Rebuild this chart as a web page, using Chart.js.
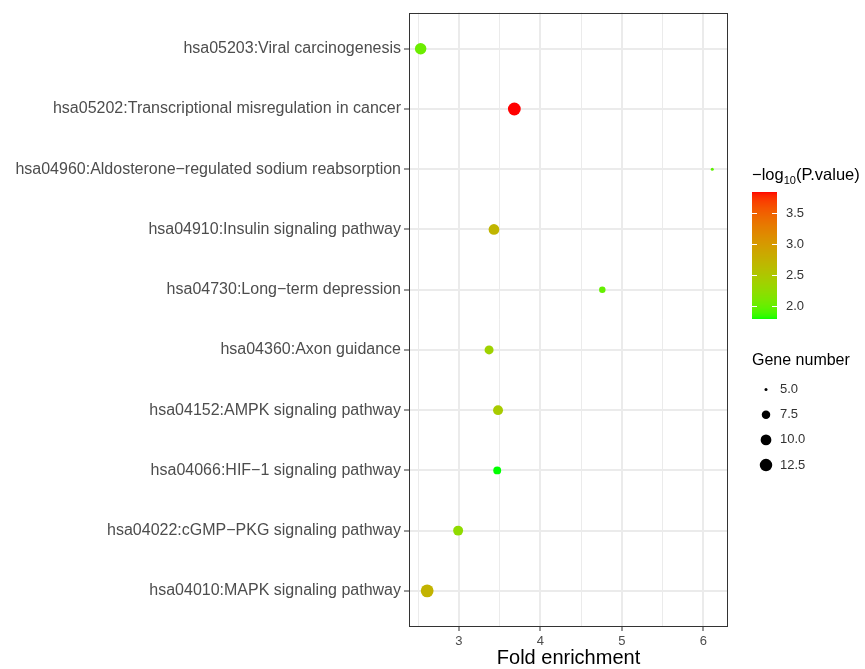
<!DOCTYPE html>
<html>
<head>
<meta charset="utf-8">
<script src="https://cdn.jsdelivr.net/npm/chart.js@4.4.1/dist/chart.umd.min.js"></script>
<style>
  html, body { margin: 0; padding: 0; background: #fff; }
  #wrap { width: 865px; height: 669px; }
</style>
</head>
<body>
<div id="wrap"><canvas id="myChart" width="865" height="669"></canvas></div>
<script>
// pathways, top to bottom
const pathways = [
  'hsa05203:Viral carcinogenesis',
  'hsa05202:Transcriptional misregulation in cancer',
  'hsa04960:Aldosterone\u2212regulated sodium reabsorption',
  'hsa04910:Insulin signaling pathway',
  'hsa04730:Long\u2212term depression',
  'hsa04360:Axon guidance',
  'hsa04152:AMPK signaling pathway',
  'hsa04066:HIF\u22121 signaling pathway',
  'hsa04022:cGMP\u2212PKG signaling pathway',
  'hsa04010:MAPK signaling pathway'
];
const foldEnrichment = [2.53, 3.68, 6.11, 3.43, 4.76, 3.37, 3.48, 3.47, 2.99, 2.61];
const negLog10P = [2.02, 3.85, 1.95, 2.70, 1.98, 2.36, 2.44, 1.78, 2.24, 2.73];
const geneNumber = [11, 13, 5, 10, 6, 8, 9, 7, 9, 13];

const xTicks = [3, 4, 5, 6];
const xMinorTicks = [2.5, 3.5, 4.5, 5.5];
const colorBreaks = [2.0, 2.5, 3.0, 3.5];
const sizeBreaks = [5.0, 7.5, 10.0, 12.5];

const FONT = "'Liberation Sans', Arial, sans-serif";

// --- green -> red gradient, interpolated in Lab like ggplot does ---
function toLab(rgb) {
  const f = c => { c /= 255; return c <= 0.04045 ? c / 12.92 : Math.pow((c + 0.055) / 1.055, 2.4); };
  const R = f(rgb[0]), G = f(rgb[1]), B = f(rgb[2]);
  const X = (0.4124 * R + 0.3576 * G + 0.1805 * B) / 0.95047;
  const Y = (0.2126 * R + 0.7152 * G + 0.0722 * B);
  const Z = (0.0193 * R + 0.1192 * G + 0.9505 * B) / 1.08883;
  const h = t => t > 0.008856 ? Math.cbrt(t) : 7.787 * t + 16 / 116;
  const fx = h(X), fy = h(Y), fz = h(Z);
  return [116 * fy - 16, 500 * (fx - fy), 200 * (fy - fz)];
}
function fromLab(lab) {
  const fy = (lab[0] + 16) / 116, fx = fy + lab[1] / 500, fz = fy - lab[2] / 200;
  const inv = t => (t * t * t > 0.008856) ? t * t * t : (t - 16 / 116) / 7.787;
  const X = inv(fx) * 0.95047, Y = inv(fy), Z = inv(fz) * 1.08883;
  const lin = [
    3.2406 * X - 1.5372 * Y - 0.4986 * Z,
    -0.9689 * X + 1.8758 * Y + 0.0415 * Z,
    0.0557 * X - 0.2040 * Y + 1.0570 * Z
  ];
  const g = c => c <= 0.0031308 ? 12.92 * c : 1.055 * Math.pow(c, 1 / 2.4) - 0.055;
  return lin.map(c => Math.round(Math.min(1, Math.max(0, g(c))) * 255));
}
const labLow = toLab([0, 255, 0]);
const labHigh = toLab([255, 0, 0]);
const pMin = Math.min(...negLog10P), pMax = Math.max(...negLog10P);
function colorFor(v) {
  const t = Math.min(1, Math.max(0, (v - pMin) / (pMax - pMin)));
  const lab = [0, 1, 2].map(k => labLow[k] + (labHigh[k] - labLow[k]) * t);
  const c = fromLab(lab);
  return 'rgb(' + c[0] + ',' + c[1] + ',' + c[2] + ')';
}

// --- point size from gene number (area scaled like scale_size) ---
const gMin = Math.min(...geneNumber), gMax = Math.max(...geneNumber);
function radiusFor(n) {
  return 1.5 + 4.9 * Math.sqrt(Math.max(0, (n - gMin) / (gMax - gMin)));
}

// panel border + legends, drawn by hand
const extras = {
  id: 'extras',
  afterDraw(chart) {
    const ctx = chart.ctx;
    const a = chart.chartArea;
    ctx.save();
    ctx.strokeStyle = '#333';
    ctx.lineWidth = 1;
    ctx.strokeRect(Math.round(a.left) + 0.5, Math.round(a.top) + 0.5,
      Math.round(a.right - a.left) - 1, Math.round(a.bottom - a.top) - 1);

    // colour bar legend
    const lx = 752;
    ctx.fillStyle = '#000';
    ctx.textBaseline = 'alphabetic';
    ctx.textAlign = 'left';
    ctx.font = '16.5px ' + FONT;
    let x = lx;
    ctx.fillText('\u2212log', x, 180);
    x += ctx.measureText('\u2212log').width;
    ctx.font = '11px ' + FONT;
    ctx.fillText('10', x, 184);
    x += ctx.measureText('10').width;
    ctx.font = '16.5px ' + FONT;
    ctx.fillText('(P.value)', x, 180);

    const barL = 752, barW = 25, barTop = 192, barBot = 319;
    for (let py = barTop; py < barBot; py++) {
      const v = pMax - (py + 0.5 - barTop) / (barBot - barTop) * (pMax - pMin);
      ctx.fillStyle = colorFor(v);
      ctx.fillRect(barL, py, barW, 1);
    }
    ctx.font = '13px ' + FONT;
    ctx.textBaseline = 'middle';
    colorBreaks.forEach(b => {
      const py = Math.round(barTop + (pMax - b) / (pMax - pMin) * (barBot - barTop)) + 0.5;
      ctx.strokeStyle = '#fff';
      ctx.beginPath();
      ctx.moveTo(barL, py); ctx.lineTo(barL + 5, py);
      ctx.moveTo(barL + barW - 5, py); ctx.lineTo(barL + barW, py);
      ctx.stroke();
      ctx.fillStyle = '#333';
      ctx.fillText(b.toFixed(1), 786, py);
    });

    // gene number legend
    ctx.fillStyle = '#000';
    ctx.font = '16px ' + FONT;
    ctx.fillText('Gene number', lx, 361);
    sizeBreaks.forEach((b, i) => {
      const py = 389.5 + i * 25.2;
      ctx.fillStyle = '#000';
      ctx.beginPath();
      ctx.arc(766, py, radiusFor(b), 0, Math.PI * 2);
      ctx.fill();
      ctx.fillStyle = '#333';
      ctx.font = '13px ' + FONT;
      ctx.fillText(b.toFixed(1), 780, py);
    });
    ctx.restore();
  }
};

const points = pathways.map((p, i) => ({ x: foldEnrichment[i], y: i }));

new Chart(document.getElementById('myChart').getContext('2d'), {
  type: 'scatter',
  data: {
    datasets: [{
      data: points,
      pointRadius: geneNumber.map(radiusFor),
      pointHoverRadius: geneNumber.map(radiusFor),
      pointBackgroundColor: negLog10P.map(colorFor),
      pointBorderWidth: 0,
      pointBorderColor: 'rgba(0,0,0,0)'
    }]
  },
  options: {
    responsive: false,
    animation: false,
    events: [],
    layout: { padding: { top: 10, right: 137, bottom: 0, left: 0 } },
    plugins: { legend: { display: false }, tooltip: { enabled: false } },
    scales: {
      x: {
        type: 'linear',
        min: 2.387,
        max: 6.303,
        afterBuildTicks: axis => {
          axis.ticks = xMinorTicks.concat(xTicks).sort((a, b) => a - b).map(v => ({ value: v }));
        },
        afterFit: axis => { axis.height = 42; },
        ticks: {
          autoSkip: false,
          maxRotation: 0,
          padding: 3,
          color: '#4d4d4d',
          font: { family: FONT, size: 13 },
          callback: v => xTicks.includes(v) ? String(v) : ''
        },
        grid: {
          color: '#ebebeb',
          lineWidth: c => (c.tick && xTicks.includes(c.tick.value)) ? 2 : 1,
          tickLength: 4,
          tickColor: c => (c.tick && xTicks.includes(c.tick.value)) ? '#333' : 'rgba(0,0,0,0)',
          tickWidth: 1
        },
        border: { display: false },
        title: {
          display: true,
          text: 'Fold enrichment',
          color: '#000',
          font: { family: FONT, size: 20, lineHeight: 1 },
          padding: { top: 0, bottom: 1 }
        }
      },
      y: {
        type: 'linear',
        reverse: true,
        min: -0.6,
        max: pathways.length - 0.4,
        afterBuildTicks: axis => {
          axis.ticks = pathways.map((p, i) => ({ value: i }));
        },
        afterFit: axis => { axis.width = 409; },
        ticks: {
          autoSkip: false,
          padding: 3,
          color: '#4d4d4d',
          font: { family: FONT, size: 16 },
          callback: v => pathways[v]
        },
        grid: {
          color: '#ebebeb',
          lineWidth: 2,
          tickLength: 5,
          tickColor: '#333',
          tickWidth: 1
        },
        border: { display: false }
      }
    }
  },
  plugins: [extras]
});
</script>
</body>
</html>
